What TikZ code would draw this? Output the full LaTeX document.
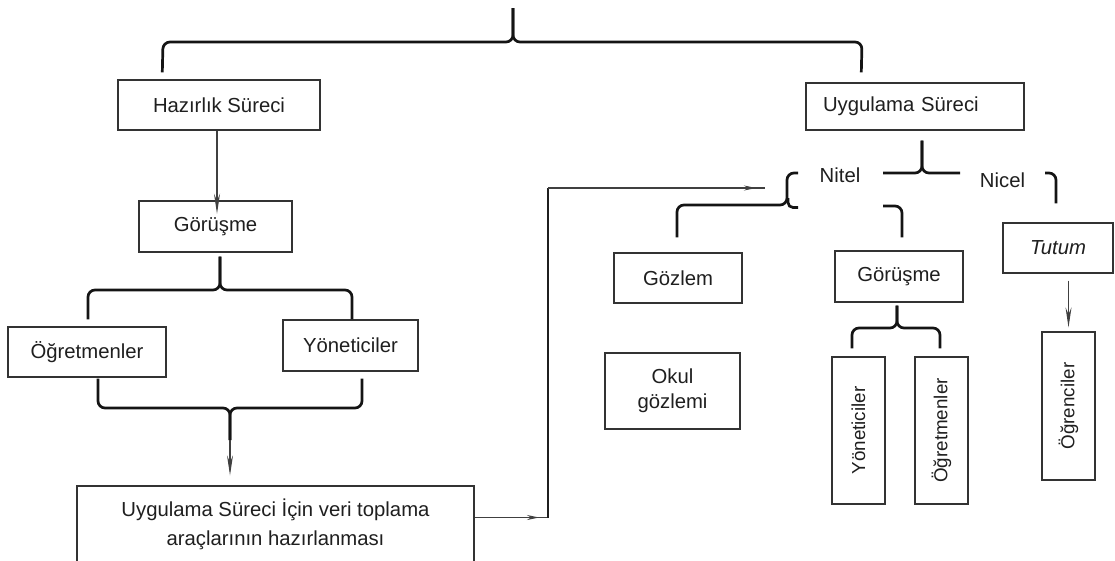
\documentclass[tikz,border=0pt]{standalone}
\usepackage{fontspec}
\setmainfont{Liberation Sans}
\usetikzlibrary{arrows.meta,calc,decorations.markings}
\newcommand\boxfont{\fontsize{20.3}{29}\selectfont}
\newcommand\sidefont{\fontsize{18.8}{22}\selectfont}

\begin{document}
\begin{tikzpicture}[x=1pt,y=-1pt,
  box/.style={draw=black!80, line width=1.4pt, inner sep=0pt, text=black!88,
              font=\boxfont, align=center},
  lbl/.style={text=black!88, font=\boxfont, inner sep=0pt},
  brace/.style={draw=black!92, line width=2.7pt, rounded corners=7pt},
  thinline/.style={draw=black!75, line width=1.1pt},
  downtip/.style={-{Stealth[length=20pt,width=6pt,inset=7pt]}},
  midtip/.style={postaction={decorate},
    decoration={markings, mark=at position -9pt with
      {\arrow{Stealth[length=12pt,width=5pt]}}}}
]
\useasboundingbox (0,0) rectangle (1115,560);
\fill[white] (0,0) rectangle (1115,560);

% ---- preparation branch (left) ----
\node[box, minimum width=202pt, minimum height=50pt] (haz) at (219,105) {Hazırlık Süreci};
\node[box, minimum width=153pt, minimum height=51pt] (gorA) at (215.5,226.5) {Görüşme};
\node[box, minimum width=158pt, minimum height=50pt] (ogrA) at (87,352) {Öğretmenler};
\node[box, minimum width=135pt, minimum height=51pt] (yonA) at (350.5,345.5) {Yöneticiler};
\node[box, minimum width=397pt, minimum height=76pt] (hazir) at (275.5,524)
  {Uygulama Süreci İçin veri toplama\\araçlarının hazırlanması};

% ---- application branch (right) ----
\node[box, minimum width=218pt, minimum height=47pt, text width=184pt, align=left]
  (uyg) at (915,106.5) {Uygulama Süreci};
\node[lbl] (nitel) at (840,175) {Nitel};
\node[lbl] (nicel) at (1002.5,180) {Nicel};
\node[box, minimum width=110pt, minimum height=50pt] (tutum) at (1058,248) {\itshape Tutum};
\node[box, minimum width=128pt, minimum height=50pt] (gozlem) at (678,278) {Gözlem};
\node[box, minimum width=135pt, minimum height=76pt, font=\fontsize{20.3}{25}\selectfont]
  (okul) at (672.5,391) {Okul\\gözlemi};
\node[box, minimum width=128pt, minimum height=51pt] (gorB) at (899,276.5) {Görüşme};
\node[box, minimum width=53pt, minimum height=147pt] (yonB) at (858.5,430.5)
  {\rotatebox{90}{\sidefont Yöneticiler}};
\node[box, minimum width=53pt, minimum height=147pt] (ogrB) at (941.5,430.5)
  {\rotatebox{90}{\sidefont Öğretmenler}};
\node[box, minimum width=53pt, minimum height=148pt] (ogrC) at (1068.5,406)
  {\rotatebox{90}{\sidefont Öğrenciler}};

% ---- top brace joining the two processes ----
\coordinate (root) at (513,8);
\draw[brace] ($(haz.north west)+(45,-7)$) -- (163,42) -- (513,42) -- (root);
\draw[brace] ($(uyg.north west)+(56,-10)$) -- (862,42) -- (513,42) -- (root);

% ---- left side ----
\draw[thinline, downtip] ($(haz.south)+(-2,0)$) -- ($(haz.south -| 217,0)+(0,83)$);
\coordinate (gorAtip) at ($(gorA.south)+(4.5,4)$);
\draw[brace] ($(ogrA.north)+(1,-7)$) -- (88,290) -- (220,290) -- (gorAtip);
\draw[brace] ($(yonA.north)+(1.5,0)$) -- (352,290) -- (220,290) -- (gorAtip);

\coordinate (mergeL) at (230,440);
\draw[brace] ($(ogrA.south)+(11,1)$) -- (98,408) -- (230,408) -- (mergeL);
\draw[brace] ($(yonA.south)+(11.5,7)$) -- (362,408) -- (230,408) -- (mergeL);
\draw[thinline, downtip] (mergeL) -- ($(mergeL |- hazir.north)+(0,-10)$);

% ---- link from the preparation step to the qualitative branch ----
\coordinate (bendA) at (548,517.5);
\coordinate (bendB) at (548,188);
\coordinate (nitelIn) at (765,188);
\draw[thinline, midtip] ($(hazir.east)+(0,-6.5)$) -- (bendA);
\draw[draw=black!88, line width=2.4pt] (bendA) -- (bendB);
\draw[thinline, midtip] (bendB) -- (nitelIn);

% ---- qualitative / quantitative split ----
\coordinate (uygtip) at ($(uyg.south)+(7,10)$);
\draw[brace] (883,173) -- (922,173) -- (uygtip);
\draw[brace] (960,173) -- (922,173) -- (uygtip);
\draw[brace] (1045,173) -- (1056,173) -- ($(tutum.north)+(-2,-19)$);
\draw[brace] (883,206) -- (902,206) -- ($(gorB.north)+(3,-13)$);
\draw[brace] ($(gozlem.north)+(-1,-15)$) -- (677,205) -- (787,205) -- (787,173) -- (798,173);
\draw[brace, rounded corners=5pt] (798,207.5) -- (788,207.5) -- (788,198);

% ---- interview split on the right ----
\coordinate (gorBtip) at ($(gorB.south)+(-2,3)$);
\draw[brace] ($(yonB.north)+(-6.5,-8)$) -- (852,328) -- (897,328) -- (gorBtip);
\draw[brace] ($(ogrB.north)+(-1.5,-8)$) -- (940,328) -- (897,328) -- (gorBtip);

% ---- attitude scale to students ----
\draw[thinline, downtip] ($(ogrC.north |- tutum.south)+(0,7)$) -- ($(ogrC.north)+(0,-4)$);
\end{tikzpicture}
\end{document}
